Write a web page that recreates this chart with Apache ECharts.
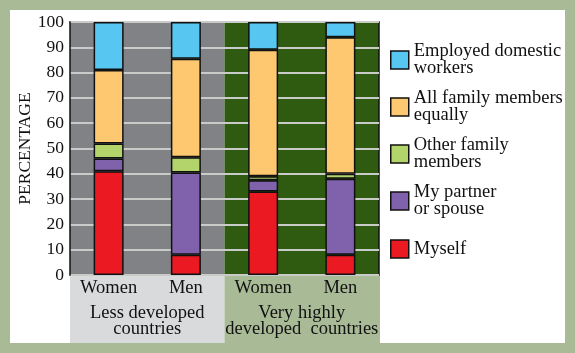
<!DOCTYPE html>
<html>
<head>
<meta charset="utf-8">
<script src="https://cdn.jsdelivr.net/npm/echarts@6/dist/echarts.min.js"></script>
<style>
  html, body { margin: 0; padding: 0; background: #a8ba96; }
  #chart { width: 575px; height: 353px; }
</style>
</head>
<body>
<div id="chart"></div>
<script>
// categories (women / men in each group of countries)
const sexLabels = ['Women', 'Men', 'Women', 'Men'];
const groupLabels = ['Less developed\ncountries', 'Very highly\ndeveloped  countries'];
const yTicks = [0, 10, 20, 30, 40, 50, 60, 70, 80, 90, 100];

// percentages, bottom of the stack first
const myself   = [41, 8, 33, 8];
const partner  = [5, 32.5, 4.5, 30];
const other    = [6, 6, 1.5, 2];
const allEqual = [29, 39, 50, 54];
const employed = [19, 14.5, 11, 6];

const seriesNames = ['Myself', 'My partner or spouse', 'Other family members',
  'All family members equally', 'Employed domestic workers'];
const legendLabels = {
  'Employed domestic workers': 'Employed domestic\nworkers',
  'All family members equally': 'All family members\nequally',
  'Other family members': 'Other family\nmembers',
  'My partner or spouse': 'My partner\nor spouse',
  'Myself': '{tall|Myself}'
};
const colors = ['#ea1922', '#7f62ab', '#b3d46b', '#fec870', '#57c7f2'];

const font = '"Liberation Serif", "DejaVu Serif", serif';
const gridLeft = 70, gridTop = 22, gridW = 309, gridH = 253;

const chart = echarts.init(document.getElementById('chart'));

const values = [myself, partner, other, allEqual, employed];
const series = seriesNames.map((name, i) => ({
  name: name,
  type: 'bar',
  stack: 'total',
  barWidth: 30,
  data: values[i],
  itemStyle: { color: colors[i], borderColor: '#111', borderWidth: 1.5 }
}));

chart.setOption({
  backgroundColor: '#a8ba96',
  animation: false,
  textStyle: { fontFamily: font },
  grid: {
    left: gridLeft, top: gridTop, width: gridW, height: gridH,
    containLabel: false, outerBoundsMode: 'none'
  },
  graphic: [
    // white panel
    { type: 'rect', z: -10, shape: { x: 10, y: 10, width: 555, height: 333 }, style: { fill: '#fff' } },
    // label band below the plot
    { type: 'rect', z: -9, shape: { x: gridLeft, y: gridTop + gridH, width: gridW / 2, height: 68 }, style: { fill: '#d9dadb' } },
    { type: 'rect', z: -9, shape: { x: gridLeft + gridW / 2, y: gridTop + gridH, width: gridW / 2 + 1, height: 78 }, style: { fill: '#a8ba96' } }
  ],
  legend: {
    orient: 'vertical',
    left: 390,
    top: 42,
    padding: 0,
    itemWidth: 18,
    itemHeight: 18,
    itemGap: 11,
    icon: 'rect',
    data: seriesNames.slice().reverse(),
    formatter: name => legendLabels[name],
    itemStyle: { borderColor: '#111', borderWidth: 1.5 },
    textStyle: {
      fontFamily: font, fontSize: 18.5, color: '#111', lineHeight: 17,
      rich: { tall: { fontFamily: font, fontSize: 18.5, lineHeight: 38, color: '#111' } }
    }
  },
  xAxis: [
    {
      type: 'category',
      data: sexLabels,
      position: 'bottom',
      axisLine: { show: true, lineStyle: { color: '#111', width: 1.5 } },
      axisTick: { show: false },
      axisLabel: { interval: 0, margin: 4, color: '#111', fontFamily: font, fontSize: 18.5 },
      splitArea: {
        show: true, interval: 0,
        areaStyle: { color: ['#808285', '#808285', '#2e5b10', '#2e5b10'] }
      }
    },
    {
      type: 'category',
      data: groupLabels,
      position: 'bottom',
      axisLine: { show: false },
      axisTick: { show: false },
      axisLabel: { interval: 0, margin: 30, color: '#111', fontFamily: font, fontSize: 18.5, lineHeight: 16 }
    },
    {
      type: 'category',
      data: sexLabels,
      position: 'top',
      axisLine: { show: true, lineStyle: { color: '#111', width: 1.5 } },
      axisTick: { show: false },
      axisLabel: { show: false }
    }
  ],
  yAxis: [
    {
      type: 'value',
      min: yTicks[0],
      max: yTicks[yTicks.length - 1],
      interval: 10,
      z: 1,
      name: 'PERCENTAGE',
      nameLocation: 'middle',
      nameGap: 36,
      nameMoveOverlap: false,
      nameTextStyle: { color: '#111', fontFamily: font, fontSize: 17.5 },
      axisLine: { show: true, lineStyle: { color: '#111', width: 1.5 } },
      axisTick: { show: false },
      axisLabel: { margin: 6, color: '#111', fontFamily: font, fontSize: 17.5 },
      splitLine: { show: true, lineStyle: { color: '#c9cbc9', width: 2 } }
    },
    {
      type: 'value',
      position: 'right',
      min: 0, max: 100,
      axisLine: { show: true, lineStyle: { color: '#111', width: 1.5 } },
      axisTick: { show: false },
      axisLabel: { show: false },
      splitLine: { show: false }
    }
  ],
  series: series
});
</script>
</body>
</html>
